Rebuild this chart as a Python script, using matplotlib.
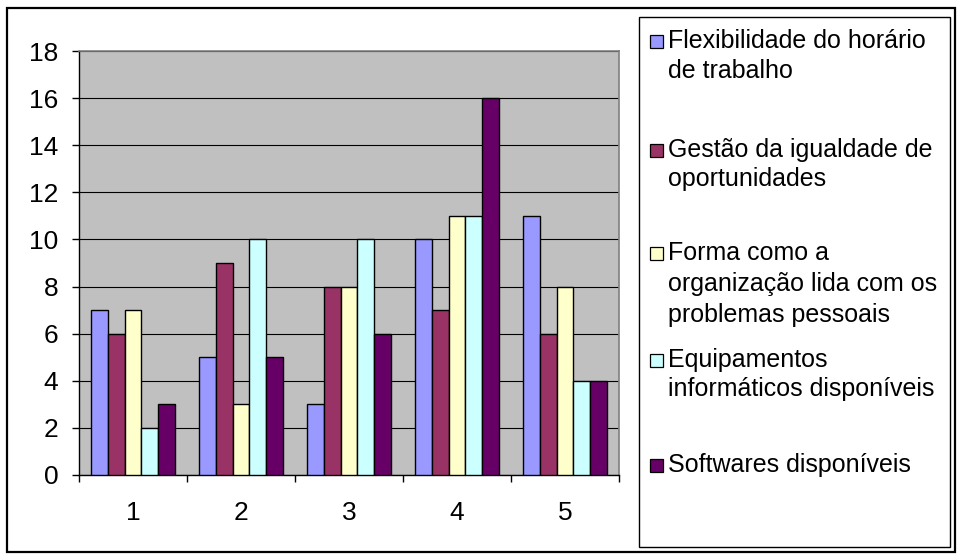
import matplotlib
matplotlib.use("Agg")
import matplotlib.pyplot as plt
from matplotlib.patches import Rectangle
import numpy as np

plt.rcParams["font.family"] = ["Liberation Sans", "DejaVu Sans"]

# ── Data ─────────────────────────────────────────────────────────────────────
categories = ["1", "2", "3", "4", "5"]
series_names = [
    ["Flexibilidade do horário", "de trabalho"],
    ["Gestão da igualdade de", "oportunidades"],
    ["Forma como a", "organização lida com os", "problemas pessoais"],
    ["Equipamentos", "informáticos disponíveis"],
    ["Softwares disponíveis"],
]
flexibilidade = [7, 5, 3, 10, 11]
igualdade     = [6, 9, 8, 7, 6]
problemas     = [7, 3, 8, 11, 8]
equipamentos  = [2, 10, 10, 11, 4]
softwares     = [3, 5, 6, 16, 4]
series_values = [flexibilidade, igualdade, problemas, equipamentos, softwares]
colors = ["#9999FF", "#993366", "#FFFFCC", "#CCFFFF", "#660066"]

W, H = 957, 554
fig = plt.figure(figsize=(W / 100, H / 100), dpi=100)

def fx(px):
    return px / W

def fy(py):
    return 1 - py / H

# outer chart frame
fig.patches.append(Rectangle((fx(7), fy(552)), fx(948), 544 / H,
                             transform=fig.transFigure, fill=False,
                             edgecolor="black", linewidth=1.6))

# ── Plot area ────────────────────────────────────────────────────────────────
ax = fig.add_axes([fx(79), fy(475), fx(540), (475 - 51) / H])
ax.set_facecolor("#C0C0C0")

n_series = len(series_values)
gap = 1.5
bw = 1.0 / (n_series + gap)
x = np.arange(len(categories))
for i, (vals, c) in enumerate(zip(series_values, colors)):
    offs = -0.5 + bw * gap / 2 + bw * i + bw / 2
    ax.bar(x + offs, vals, width=bw, color=c, edgecolor="black",
           linewidth=1.0, zorder=3)

ax.set_xlim(-0.5, len(categories) - 0.5)
ax.set_ylim(0, 18)
ax.set_yticks(range(0, 19, 2))
ax.yaxis.grid(True, color="black", linewidth=0.8, zorder=1)
ax.set_axisbelow(True)

ax.set_xticks(x)
ax.set_xticklabels(categories)
ax.set_xticks(np.arange(-0.5, len(categories)), minor=True)
ax.tick_params(axis="x", which="major", length=0, pad=19, labelsize=19)
ax.tick_params(axis="x", which="minor", length=5, width=1.0, color="black")
ax.tick_params(axis="y", length=5, width=1.0, pad=10, labelsize=19)

for side in ["top", "right"]:
    ax.spines[side].set_color("#808080")
    ax.spines[side].set_linewidth(1.2)
for side in ["left", "bottom"]:
    ax.spines[side].set_color("black")
    ax.spines[side].set_linewidth(1.0)

# ── Legend box ───────────────────────────────────────────────────────────────
fig.patches.append(Rectangle((fx(639), fy(547)), fx(311), (547 - 17) / H,
                             transform=fig.transFigure, fill=False,
                             edgecolor="black", linewidth=1.0))

# baseline of each legend line, in pixels from the top
line_baselines = [[48, 78], [157, 186], [260, 291, 322], [367, 396], [472]]
for lines, c, bases in zip(series_names, colors, line_baselines):
    fig.patches.append(Rectangle((fx(650), fy(bases[0])), fx(13), 13 / H,
                                 transform=fig.transFigure, facecolor=c,
                                 edgecolor="black", linewidth=0.9))
    for line, b in zip(lines, bases):
        fig.text(fx(668), fy(b), line, fontsize=18, va="baseline", ha="left")

fig.savefig("out.png", dpi=100)
